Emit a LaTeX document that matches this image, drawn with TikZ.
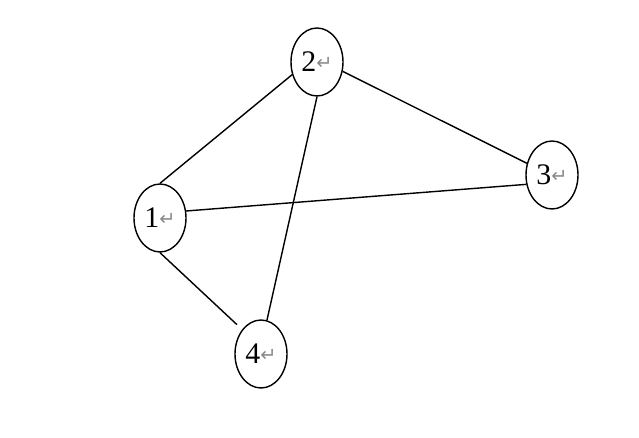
\documentclass[tikz,border=0pt]{standalone}
\usepackage{fontspec}
\setmainfont{Liberation Serif}
\newfontfamily\symfont{DejaVu Sans}
\usepackage{tikz}
\usetikzlibrary{shapes.geometric}
\definecolor{markColor}{HTML}{8A8A8A}
\newcommand{\retmark}{{\symfont\fontsize{11}{12}\selectfont\color{markColor}\raisebox{0.2ex}{↵}}}

\begin{document}
\begin{tikzpicture}[x=0.02cm, y=-0.02cm, line width=0.8pt,
    vertex/.style={draw, ellipse, minimum width=1.04cm, minimum height=1.36cm,
        inner sep=0pt, font=\fontsize{17}{20}\selectfont}]
    \useasboundingbox (0,0) rectangle (639,438);
    % vertices
    \node[vertex] (v1) at (160,218) {1\retmark};
    \node[vertex] (v2) at (317,62) {2\retmark};
    \node[vertex] (v3) at (552,175) {3\retmark};
    \node[vertex] (v4) at (261,354) {4\retmark};
    % edges
    \draw (v1.north) -- (v2.207);
    \draw (v1.15) -- (v3.200);
    \draw[shorten >=4pt] (v1.south) -- (v4.north west);
    \draw (v2.-20) -- (v3.155);
    \draw (v2.south) -- (v4.80);
\end{tikzpicture}
\end{document}
